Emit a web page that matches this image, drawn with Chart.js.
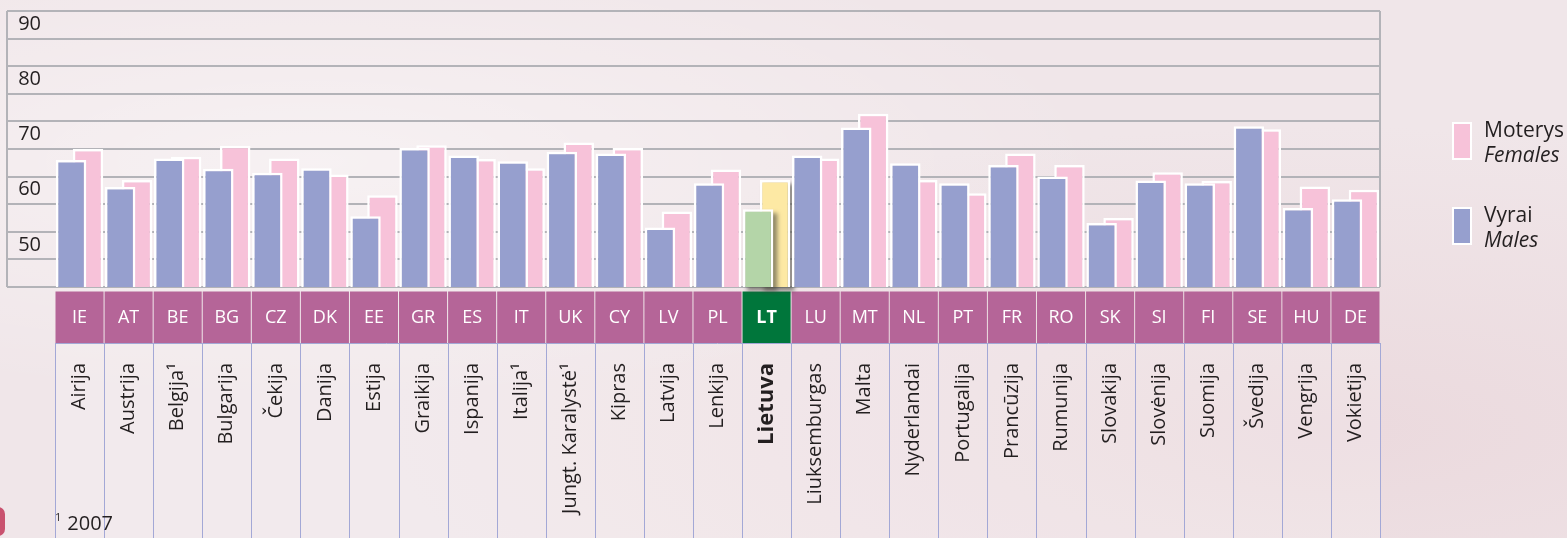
<!DOCTYPE html>
<html lang="lt">
<head>
<meta charset="utf-8">
<title>Sveiko gyvenimo metai</title>
<script src="https://cdn.jsdelivr.net/npm/chart.js@4.4.1/dist/chart.umd.min.js"></script>
<style>
  html, body { margin: 0; padding: 0; }
  body {
    width: 1567px; height: 538px; overflow: hidden; position: relative;
    font-family: 'Open Sans', sans-serif; color: #231f20;
    background:
      radial-gradient(ellipse at 20% 30%, rgba(255,255,255,0.45), rgba(255,255,255,0) 45%),
      radial-gradient(ellipse at 85% 80%, rgba(230,205,210,0.5), rgba(230,205,210,0) 50%),
      #f0e6e9;
  }
  #chart { position: absolute; left: 0; top: 0; }
  .swatch { position: absolute; left: 1452px; width: 20px; height: 38px; border: 2px solid #fff; box-sizing: border-box; }
  .ltxt { position: absolute; left: 1484px; font-size: 21px; line-height: 25px; white-space: nowrap; }
  .ltxt i { display: block; }
  #note { position: absolute; left: 55px; top: 505px; font-size: 20px; line-height: 24px; }
  #note sup { font-size: 11px; vertical-align: 9px; margin-right: 6px; }
  #mark { position: absolute; left: -9px; top: 507px; width: 14px; height: 29px; border-radius: 7px; background: #c9526f; }
</style>
</head>
<body>
<canvas id="chart" width="1567" height="538"></canvas>
<div id="legend"></div>
<div id="note"><sup>1</sup>2007</div>
<div id="mark"></div>
<script>
"use strict";

const codes = ['IE', 'AT', 'BE', 'BG', 'CZ', 'DK', 'EE', 'GR', 'ES', 'IT', 'UK', 'CY', 'LV', 'PL', 'LT',
  'LU', 'MT', 'NL', 'PT', 'FR', 'RO', 'SK', 'SI', 'FI', 'SE', 'HU', 'DE'];
const countries = ['Airija', 'Austrija', 'Belgija¹', 'Bulgarija', 'Čekija', 'Danija', 'Estija', 'Graikija',
  'Ispanija', 'Italija¹', 'Jungt. Karalystė¹', 'Kipras', 'Latvija', 'Lenkija', 'Lietuva', 'Liuksemburgas',
  'Malta', 'Nyderlandai', 'Portugalija', 'Prancūzija', 'Rumunija', 'Slovakija', 'Slovėnija', 'Suomija',
  'Švedija', 'Vengrija', 'Vokietija'];
const males = [63.0, 58.1, 63.3, 61.4, 60.7, 61.5, 52.8, 65.2, 63.8, 62.8, 64.5, 64.2, 50.8, 58.8, 54.1,
  63.8, 68.9, 62.4, 58.8, 62.1, 60.0, 51.6, 59.3, 58.8, 69.1, 54.3, 55.9];
const females = [65.0, 59.4, 63.6, 65.6, 63.3, 60.4, 56.6, 65.7, 63.2, 61.5, 66.2, 65.2, 53.7, 61.3, 59.4,
  63.3, 71.4, 59.4, 57.0, 64.2, 62.1, 52.5, 60.8, 59.2, 68.6, 58.2, 57.6];
const yTickLabels = [50, 60, 70, 80, 90];
const seriesNames = { males: ['Vyrai', 'Males'], females: ['Moterys', 'Females'] };

const home = codes.indexOf('LT');
const font_family = "'Open Sans', sans-serif";

const blue = '#969fce';
const pink = '#f7c2d9';
const grid_color = '#b3b3b8';

// legend (html so the italic english line can sit under the lithuanian one)
const legend = document.getElementById('legend');
[[seriesNames.females, pink, 122, 117], [seriesNames.males, blue, 207, 202]].forEach(([names, color, boxTop, textTop]) => {
  const sw = document.createElement('div');
  sw.className = 'swatch';
  sw.style.top = boxTop + 'px';
  sw.style.background = color;
  legend.appendChild(sw);
  const txt = document.createElement('div');
  txt.className = 'ltxt';
  txt.style.top = textTop + 'px';
  txt.innerHTML = names[0] + '<i>' + names[1] + '</i>';
  legend.appendChild(txt);
});

// boxes under the codes, cells for the names, sides of the grid box
const cellsPlugin = {
  id: 'cells',
  beforeDraw(chart) {
    const { ctx, chartArea: a, scales } = chart;
    const x = scales.x, x2 = scales.x2, y = scales.y;
    const w = (a.right - a.left) / codes.length;
    ctx.save();

    ctx.strokeStyle = grid_color;
    ctx.lineWidth = 2;
    ctx.beginPath();
    ctx.moveTo(y.left, a.top);
    ctx.lineTo(y.left, a.bottom);
    ctx.moveTo(a.right, a.top);
    ctx.lineTo(a.right, a.bottom);
    ctx.stroke();

    codes.forEach((c, i) => {
      const cx = x.getPixelForValue(i);
      ctx.fillStyle = i === home ? '#00763b' : '#b56598';
      ctx.fillRect(cx - w / 2 + 0.5, x.top + 4.5, w - 1, x.bottom - x.top - 4.5);
    });

    ctx.fillStyle = 'rgba(255,255,255,0.18)';
    ctx.fillRect(a.left, x2.top, a.right - a.left, x2.bottom - x2.top);
    ctx.strokeStyle = '#a3a8d6';
    ctx.lineWidth = 1;
    ctx.beginPath();
    ctx.moveTo(a.left, x2.top + 0.5);
    ctx.lineTo(a.right, x2.top + 0.5);
    for (let i = 0; i <= countries.length; i++) {
      const px = Math.round(a.left + i * w) + 0.5;
      ctx.moveTo(px, x2.top);
      ctx.lineTo(px, x2.bottom);
    }
    ctx.stroke();
    ctx.restore();
  }
};

// drop shadow behind the Lithuanian bars (bars are clipped to the chart area, so clamp the base)
const shadowPlugin = {
  id: 'homeShadow',
  beforeDatasetDraw(chart, args) {
    const el = args.meta.data[home];
    if (!el) return;
    const p = el.getProps(['x', 'y', 'base', 'width'], true);
    const bottom = Math.min(p.base, chart.chartArea.bottom);
    const ctx = chart.ctx;
    ctx.save();
    ctx.filter = 'blur(2px)';
    ctx.fillStyle = 'rgba(70,70,60,0.6)';
    ctx.fillRect(p.x - p.width / 2 + 4, p.y + 4, p.width, bottom - p.y);
    ctx.restore();
  }
};

function tickFont(size, boldSize) {
  return (c) => c.index === home
    ? { family: font_family, size: boldSize, weight: 'bold' }
    : { family: font_family, size: size, weight: 'normal' };
}

new Chart(document.getElementById('chart'), {
  type: 'bar',
  data: {
    labels: codes,
    datasets: [
      {
        label: seriesNames.males[0],
        data: males,
        backgroundColor: males.map((_, i) => i === home ? '#b4d5a8' : blue),
        borderColor: '#ffffff',
        borderWidth: 2.5,
        borderSkipped: false,
        categoryPercentage: 0.69,
        barPercentage: 1.8,
      },
      {
        label: seriesNames.females[0],
        data: females,
        backgroundColor: females.map((_, i) => i === home ? '#fde9a4' : pink),
        borderColor: '#ffffff',
        borderWidth: 2.5,
        borderSkipped: false,
        categoryPercentage: 0.69,
        barPercentage: 1.8,
      },
    ],
  },
  options: {
    responsive: false,
    animation: false,
    devicePixelRatio: 1,
    layout: { padding: { left: 7, right: 187, top: 11, bottom: 0 } },
    plugins: { legend: { display: false }, tooltip: { enabled: false } },
    scales: {
      y: {
        min: 40,
        max: 90,
        afterFit(s) { s.width = 48; s.paddingTop = 0; s.paddingBottom = 0; },
        grid: { color: grid_color, tickColor: grid_color, lineWidth: 2, tickLength: 48 },
        border: { display: false },
        ticks: {
          stepSize: 5,
          padding: -34,
          labelOffset: 13,
          color: '#231f20',
          font: { family: font_family, size: 20 },
          callback: (v) => yTickLabels.includes(v) ? String(v) : '',
        },
      },
      x: {
        type: 'category',
        offset: true,
        position: 'bottom',
        weight: 1,
        afterFit(s) { s.height = 56; s.paddingLeft = 0; s.paddingRight = 0; },
        grid: { display: false, drawTicks: false },
        border: { display: false },
        ticks: { autoSkip: false, maxRotation: 0, padding: 20, color: '#ffffff', font: tickFont(18, 18) },
      },
      x2: {
        type: 'category',
        labels: countries,
        offset: true,
        position: 'bottom',
        weight: 2,
        afterFit(s) { s.height = 195; s.paddingLeft = 0; s.paddingRight = 0; },
        grid: { display: false, drawTicks: false },
        border: { display: false },
        ticks: { autoSkip: false, minRotation: 90, maxRotation: 90, padding: 20, color: '#231f20', font: tickFont(20, 22) },
      },
    },
  },
  plugins: [cellsPlugin, shadowPlugin],
});
</script>
</body>
</html>
